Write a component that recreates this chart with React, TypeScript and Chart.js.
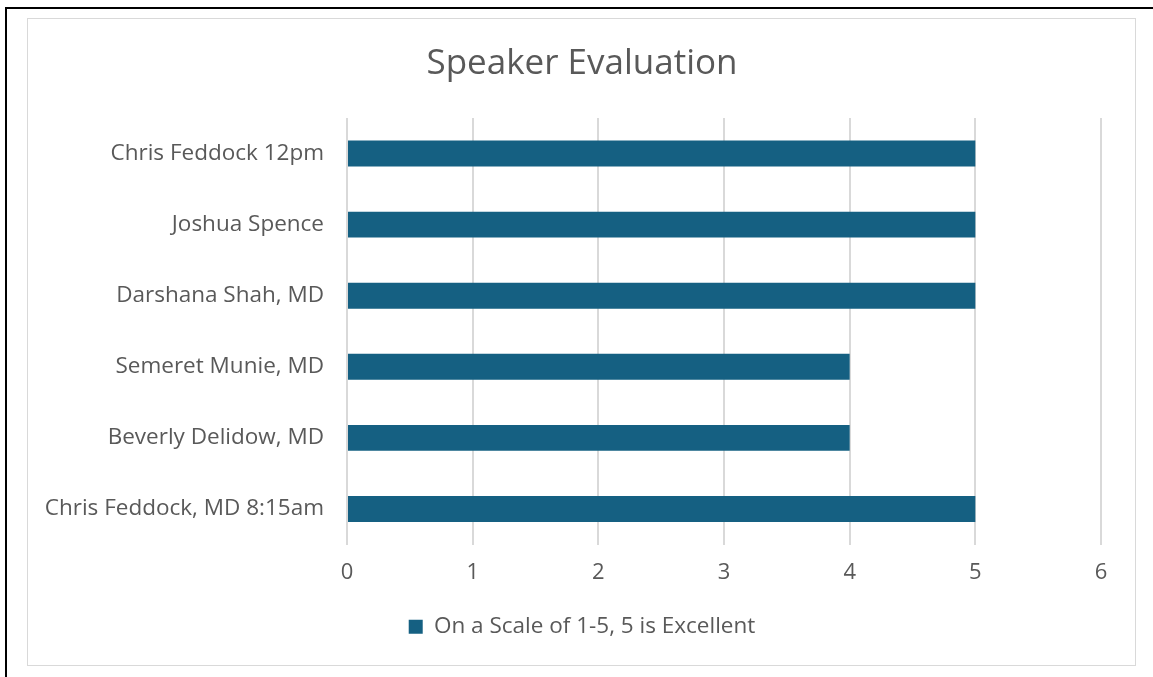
import React, { useEffect, useRef } from "react";
import { Chart, registerables } from "chart.js";

Chart.register(...registerables);

const categories = [
  "Chris Feddock 12pm",
  "Joshua Spence",
  "Darshana Shah, MD",
  "Semeret Munie, MD",
  "Beverly Delidow, MD",
  "Chris Feddock, MD 8:15am",
];
const scores = [5, 5, 5, 4, 4, 5];
const seriesName = "On a Scale of 1-5, 5 is Excellent";
const chartTitle = "Speaker Evaluation";
const xMin = 0;
const xMax = 6;
const xStep = 1;

const FONT = "'Open Sans', 'Liberation Sans', sans-serif";
const TEXT = "#595959";
const BAR = "#156082";

export default function App() {
  const ref = useRef<HTMLCanvasElement | null>(null);
  useEffect(() => {
    if (!ref.current) return;
    const chart = new Chart(ref.current, {
      type: "bar",
      data: {
        labels: categories,
        datasets: [
          {
            label: seriesName,
            data: scores,
            backgroundColor: BAR,
            borderWidth: 0,
            barPercentage: 0.365,
            categoryPercentage: 1,
          },
        ],
      },
      options: {
        indexAxis: "y",
        responsive: false,
        animation: false,
        layout: { padding: { left: 27, right: 16, top: 0, bottom: 29 } },
        plugins: {
          tooltip: { enabled: false },
          title: {
            display: true,
            text: chartTitle,
            color: TEXT,
            font: { family: FONT, size: 35, weight: "normal" },
            padding: { top: 43, bottom: 33 },
          },
          legend: {
            position: "bottom",
            labels: {
              color: TEXT,
              font: { family: FONT, size: 22.5 },
              boxWidth: 14,
              boxHeight: 14,
              padding: 10,
            },
          },
        },
        scales: {
          x: {
            min: xMin,
            max: xMax,
            ticks: {
              stepSize: xStep,
              color: TEXT,
              font: { family: FONT, size: 22 },
              padding: 15,
            },
            grid: { color: "#d9d9d9", lineWidth: 2, drawTicks: false },
            border: { display: false },
            afterFit: (s: any) => {
              s.height = 61;
            },
          },
          y: {
            ticks: {
              color: TEXT,
              font: { family: FONT, size: 22.5 },
              padding: 23,
            },
            grid: { display: false, drawTicks: false },
            border: { display: false },
            afterFit: (s: any) => {
              s.width = 320;
            },
          },
          ySpacer: {
            type: "linear",
            position: "right",
            display: true,
            ticks: { display: false },
            grid: { display: false, drawTicks: false },
            border: { display: false },
            afterFit: (s: any) => {
              s.width = 36;
            },
          },
        },
      },
    });
    return () => chart.destroy();
  }, []);
  return (
    <div style={{ position: "absolute", left: 0, top: 0, width: 1153, height: 677, background: "#fff" }}>
      <div style={{ position: "absolute", left: 5, top: 7, width: 2, height: 670, background: "#000" }} />
      <div style={{ position: "absolute", left: 5, top: 7, width: 1148, height: 2, background: "#000" }} />
      <div
        style={{
          position: "absolute",
          left: 27,
          top: 18,
          width: 1109,
          height: 648,
          border: "1px solid #d9d9d9",
          boxSizing: "border-box",
        }}
      />
      <canvas ref={ref} width={1153} height={677} style={{ position: "absolute", left: 0, top: 0 }} />
    </div>
  );
}
